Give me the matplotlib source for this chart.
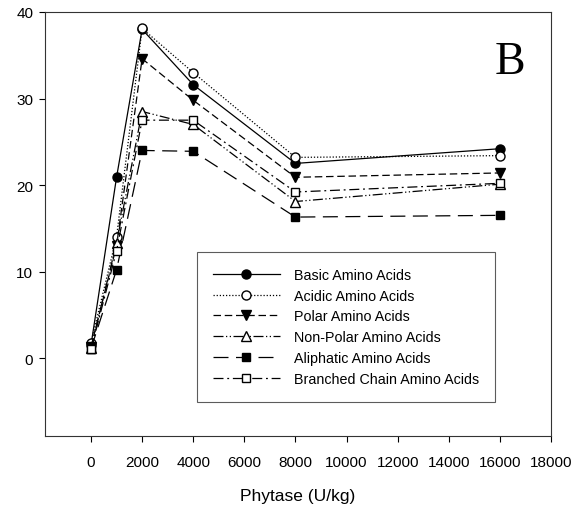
import matplotlib
matplotlib.use("Agg")
import matplotlib.pyplot as plt

plt.rcParams['font.family'] = ['Liberation Sans', 'DejaVu Sans']

# Phytase dose (U/kg)
phytase = [0, 1000, 2000, 4000, 8000, 16000]

basic = [1.5, 20.9, 38.0, 31.6, 22.5, 24.2]
acidic = [1.8, 14.0, 38.1, 33.0, 23.2, 23.4]
polar = [1.3, 13.0, 34.6, 29.8, 20.9, 21.4]
non_polar = [1.2, 13.3, 28.5, 27.0, 18.1, 20.1]
aliphatic = [1.1, 10.2, 24.0, 23.9, 16.3, 16.5]
branched = [1.0, 12.4, 27.5, 27.5, 19.2, 20.2]

labels = ['Basic Amino Acids', 'Acidic Amino Acids', 'Polar Amino Acids',
          'Non-Polar Amino Acids', 'Aliphatic Amino Acids', 'Branched Chain Amino Acids']

fig = plt.figure(figsize=(5.88, 5.10), dpi=100)
ax = fig.add_axes([45 / 588, 1 - 437 / 510, 506 / 588, 424 / 510])

lw = 0.9
ms = 6.5
ax.plot(phytase, basic, color='black', lw=lw, linestyle='-', marker='o',
        markersize=ms, markerfacecolor='black', label=labels[0])
ax.plot(phytase, acidic, color='black', lw=lw, linestyle=(0, (1, 1.5)), marker='o',
        markersize=ms, markerfacecolor='white', label=labels[1])
ax.plot(phytase, polar, color='black', lw=lw, linestyle=(0, (6, 3)), marker='v',
        markersize=ms + 0.5, markerfacecolor='black', label=labels[2])
ax.plot(phytase, non_polar, color='black', lw=lw, linestyle=(0, (8, 2, 1, 2, 1, 2)), marker='^',
        markersize=ms, markerfacecolor='white', label=labels[3])
ax.plot(phytase, aliphatic, color='black', lw=lw, linestyle=(0, (12, 6)), marker='s',
        markersize=ms - 0.5, markerfacecolor='black', label=labels[4])
ax.plot(phytase, branched, color='black', lw=lw, linestyle=(0, (8, 3, 1.5, 3)), marker='s',
        markersize=ms - 0.5, markerfacecolor='white', label=labels[5])

ax.set_xlim(-1800, 18000)
ax.set_ylim(-9, 40)
ax.set_xticks(range(0, 18001, 2000))
ax.set_yticks([0, 10, 20, 30, 40])
ax.tick_params(direction='out', length=4.5, width=0.8, labelsize=11, top=False, right=False)
ax.tick_params(axis='x', pad=9)
ax.tick_params(axis='y', pad=4)
for s in ax.spines.values():
    s.set_linewidth(0.8)
    s.set_color('#333333')

ax.set_xlabel('Phytase (U/kg)', fontsize=12.5, labelpad=14)

ax.text(0.949, 0.856, 'B', transform=ax.transAxes, ha='right', va='baseline',
        fontsize=33, family='Liberation Serif')

leg = ax.legend(loc='upper left', bbox_to_anchor=(152 / 506, 1 - 240 / 424),
                frameon=True, fancybox=False, edgecolor='#333333', fontsize=10.3,
                handlelength=4.7, handletextpad=1.0, borderpad=1.1, labelspacing=0.48,
                borderaxespad=0)
leg.get_frame().set_linewidth(0.8)

fig.savefig('out.png', dpi=100)
